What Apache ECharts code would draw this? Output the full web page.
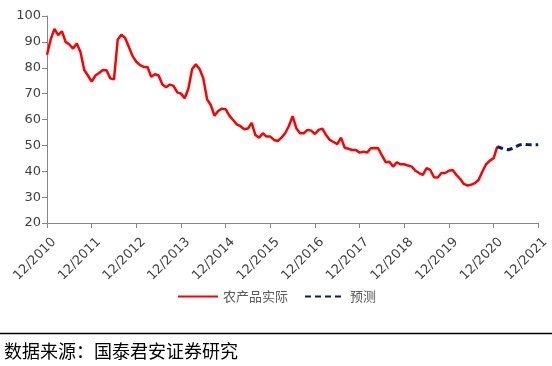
<!DOCTYPE html>
<html><head><meta charset="utf-8">
<script src="https://cdn.jsdelivr.net/npm/echarts@6/dist/echarts.min.js"></script>
<style>html,body{margin:0;padding:0;background:#fff}#c{width:552px;height:366px}</style>
</head><body><div id="c"></div>
<script>
// Monthly series, Dec 2010 .. Dec 2021
var startYear = 2010, startMonth = 12, monthCount = 133;
var yTicks = [20, 30, 40, 50, 60, 70, 80, 90, 100];
var seriesNames = ['农产品实际', '预测'];
// Actual: Dec 2010 .. Jan 2021
var actual = [
 85, 91, 95, 92.6, 94.1, 90, 89, 87.4, 89.4, 86.1, 79.1, 77,
 74.6, 77, 78, 79.1, 79, 75.9, 75.5, 90.9, 92.8, 91.5, 88, 84.5,
 82.3, 81, 80.3, 80.3, 76.5, 77.5, 77, 73.5, 72.5, 73.5, 73, 70.5,
 70, 68.2, 72, 79.5, 81.3, 79.5, 75.9, 67.9, 65.6, 61.5, 63.3, 64.2,
 64, 61.5, 59.8, 58.1, 57.4, 56.2, 56.5, 58.7, 54, 53, 54.7, 53.4,
 53.4, 52.1, 51.7, 53, 54.7, 57.5, 61.3, 56.6, 54.7, 54.7, 56, 55.7,
 54.4, 56, 56.5, 54, 52.1, 51.3, 50.5, 53, 49.1, 48.7, 48.2, 48.2,
 47.2, 47.6, 47.2, 48.9, 49, 48.9, 46.1, 43.5, 43.7, 41.8, 43.4, 42.7,
 42.7, 42.2, 41.8, 40.2, 39.3, 38.6, 41.2, 40.5, 37.7, 37.6, 39.3, 39.3,
 40.2, 40.5, 38.6, 37.1, 35.1, 34.5, 34.8, 35.4, 36.7, 39.9, 42.7, 44.1,
 45, 49.5
];
// Forecast: Jan 2021 .. Dec 2021
var forecast = [49.5, 49, 48.5, 48.3, 48.8, 49.5, 50.2, 50.5, 50.3, 50.2, 50.2, 50.2];
var forecastStart = 121;

var categories = [];
for (var i = 0; i < monthCount; i++) {
  var m = (startMonth - 1 + i) % 12 + 1;
  var y = startYear + Math.floor((startMonth - 1 + i) / 12);
  categories.push(m + '/' + y);
}
var forecastData = [];
for (var j = 0; j < monthCount; j++) {
  forecastData.push(j >= forecastStart ? forecast[j - forecastStart] : null);
}

var chart = echarts.init(document.getElementById('c'), null, {renderer: 'canvas'});
chart.setOption({
  animation: false,
  grid: {left: 47, right: 12, top: 16, bottom: 143, containLabel: false},
  legend: {
    left: 172, top: 285, itemWidth: 40, itemHeight: 10, itemGap: 16,
    itemStyle: {opacity: 0},
    textStyle: {fontFamily: 'Noto Sans CJK SC', fontSize: 13, color: '#595959'},
    data: seriesNames
  },
  xAxis: {
    type: 'category', boundaryGap: false, data: categories,
    axisLine: {lineStyle: {color: '#868686', width: 1}},
    axisTick: {show: true, interval: 11, length: 5, inside: false, lineStyle: {color: '#868686'}},
    axisLabel: {interval: 11, rotate: 45, margin: 24, padding: [0, -10, 0, 0],
      fontFamily: 'DejaVu Sans', fontSize: 13, color: '#404040'},
    splitLine: {show: false}
  },
  yAxis: {
    type: 'value', min: yTicks[0], max: yTicks[yTicks.length - 1], interval: 10,
    axisLine: {show: true, lineStyle: {color: '#868686', width: 1}},
    axisTick: {show: true, length: 5, lineStyle: {color: '#868686'}},
    axisLabel: {margin: 6, fontFamily: 'DejaVu Sans', fontSize: 13, color: '#404040'},
    splitLine: {show: false}
  },
  series: [
    {name: seriesNames[0], type: 'line', data: actual, symbol: 'none', smooth: false,
     lineStyle: {color: '#FF0000', width: 2.5}, itemStyle: {color: '#FF0000'}},
    {name: seriesNames[1], type: 'line', data: forecastData, symbol: 'none', connectNulls: false,
     lineStyle: {color: '#002060', width: 3, type: [6, 4]}, itemStyle: {color: '#002060'}}
  ],
  graphic: [
    {type: 'line', shape: {x1: 0, y1: 333.5, x2: 552, y2: 333.5}, style: {stroke: '#000', lineWidth: 1.5}},
    {type: 'text', left: 4, top: 342, style: {text: '数据来源：国泰君安证券研究', fontFamily: 'Noto Sans CJK SC', fontSize: 18, fill: '#000'}}
  ]
});
</script>
</body></html>
